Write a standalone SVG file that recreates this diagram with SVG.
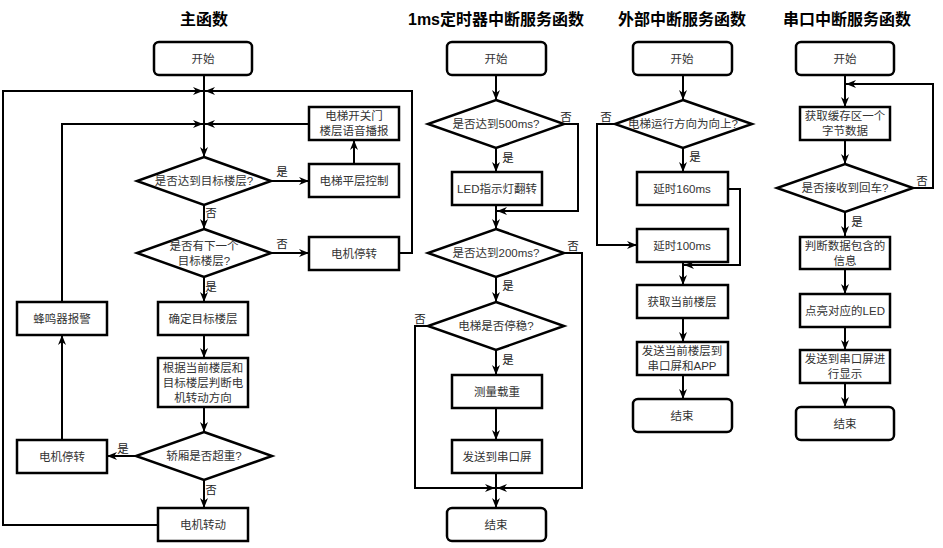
<svg xmlns="http://www.w3.org/2000/svg" width="943" height="548" viewBox="0 0 943 548">
<style>
.box{fill:#fff;stroke:#000;stroke-width:2.5}
.ln{fill:none;stroke:#000;stroke-width:2;marker-end:url(#arr)}
.t{font-family:"Liberation Sans","Noto Sans CJK SC",sans-serif;font-size:11.5px;fill:#333;text-anchor:middle;dominant-baseline:central}
.lb{font-family:"Liberation Sans","Noto Sans CJK SC",sans-serif;font-size:11.5px;fill:#222;text-anchor:middle;dominant-baseline:central}
.ti{font-family:"Liberation Sans","Noto Sans CJK SC",sans-serif;font-size:16px;font-weight:bold;fill:#000;text-anchor:middle}
</style>
<defs>
<marker id="arr" viewBox="0 0 10 8" refX="10" refY="4" markerWidth="10" markerHeight="8" markerUnits="userSpaceOnUse" orient="auto">
<path d="M0,0 L10,4 L0,8 L3,4 z" fill="#000"/>
</marker>
</defs>
<rect width="943" height="548" fill="#fff"/>

<g id="titles">
<text class="ti" x="204" y="25">主函数</text>
<text class="ti" x="496" y="25">1ms定时器中断服务函数</text>
<text class="ti" x="682" y="25">外部中断服务函数</text>
<text class="ti" x="847" y="25">串口中断服务函数</text>
</g>

<g id="connectors">
<!-- main -->
<path class="ln" d="M204,75 V157"/>
<path class="ln" d="M158,525 H3 V91 H203"/>
<path class="ln" d="M399,253 H412 V91 H205"/>
<path class="ln" d="M62,302 V124 H203"/>
<path class="ln" d="M309,124 H205"/>
<path class="ln" d="M271,181 H309"/>
<path class="ln" d="M354,164 V140"/>
<path class="ln" d="M204,205 V229"/>
<path class="ln" d="M271,253 H309"/>
<path class="ln" d="M204,277 V302"/>
<path class="ln" d="M204,335 V358"/>
<path class="ln" d="M204,407 V432"/>
<path class="ln" d="M136,456 H107"/>
<path class="ln" d="M62,440 V335"/>
<path class="ln" d="M204,480 V508"/>
<!-- timer -->
<path class="ln" d="M496,75 V100"/>
<path class="ln" d="M564,124 H578 V211 H497"/>
<path class="ln" d="M496,148 V172"/>
<path class="ln" d="M496,205 V229"/>
<path class="ln" d="M564,253 H582 V488 H497"/>
<path class="ln" d="M496,277 V302"/>
<path class="ln" d="M428,326 H415 V488 H495"/>
<path class="ln" d="M496,350 V375"/>
<path class="ln" d="M496,408 V440"/>
<path class="ln" d="M496,473 V508"/>
<!-- external -->
<path class="ln" d="M683,75 V100"/>
<path class="ln" d="M615,124 H597 V245 H637"/>
<path class="ln" d="M683,148 V172"/>
<path class="ln" d="M728,189 H740 V265 H684"/>
<path class="ln" d="M683,262 V285"/>
<path class="ln" d="M683,318 V342"/>
<path class="ln" d="M683,375 V399"/>
<!-- uart -->
<path class="ln" d="M845,75 V107"/>
<path class="ln" d="M913,188 H933 V84 H846"/>
<path class="ln" d="M845,140 V164"/>
<path class="ln" d="M845,212 V236"/>
<path class="ln" d="M845,269 V294"/>
<path class="ln" d="M845,327 V350"/>
<path class="ln" d="M845,383 V407"/>
</g>

<g id="labels">
<text class="lb" x="282" y="172">是</text>
<text class="lb" x="211" y="213">否</text>
<text class="lb" x="282" y="244">否</text>
<text class="lb" x="211" y="287">是</text>
<text class="lb" x="123" y="449">是</text>
<text class="lb" x="211" y="490">否</text>
<text class="lb" x="566" y="117">否</text>
<text class="lb" x="508" y="158">是</text>
<text class="lb" x="573" y="246">否</text>
<text class="lb" x="508" y="286">是</text>
<text class="lb" x="420" y="319">否</text>
<text class="lb" x="508" y="360">是</text>
<text class="lb" x="606" y="117">否</text>
<text class="lb" x="695" y="157">是</text>
<text class="lb" x="922" y="181">否</text>
<text class="lb" x="857" y="222">是</text>
</g>

<!-- main function nodes -->
<g id="m_start"><rect class="box" x="154" y="42" width="98" height="33" rx="5"/><text class="t" x="203" y="58.5">开始</text></g>
<g id="m_d1"><polygon class="box" points="204,157 271,181 204,205 137,181"/><text class="t" x="204" y="181">是否达到目标楼层?</text></g>
<g id="m_level"><rect class="box" x="309" y="164" width="90" height="33"/><text class="t" x="354" y="180.5">电梯平层控制</text></g>
<g id="m_door"><rect class="box" x="309" y="107" width="90" height="33"/><text class="t" x="354" y="116">电梯开关门</text><text class="t" x="354" y="131">楼层语音播报</text></g>
<g id="m_d2"><polygon class="box" points="204,229 271,253 204,277 137,253"/><text class="t" x="204" y="246">是否有下一个</text><text class="t" x="204" y="261">目标楼层?</text></g>
<g id="m_stop1"><rect class="box" x="309" y="237" width="90" height="33"/><text class="t" x="354" y="253.5">电机停转</text></g>
<g id="m_target"><rect class="box" x="158" y="302" width="90" height="33"/><text class="t" x="203" y="318.5">确定目标楼层</text></g>
<g id="m_dir"><rect class="box" x="158" y="358" width="90" height="49"/><text class="t" x="203" y="368">根据当前楼层和</text><text class="t" x="203" y="383">目标楼层判断电</text><text class="t" x="203" y="398">机转动方向</text></g>
<g id="m_d3"><polygon class="box" points="204,432 272,456 204,480 136,456"/><text class="t" x="204" y="456">轿厢是否超重?</text></g>
<g id="m_stop2"><rect class="box" x="17" y="440" width="90" height="33"/><text class="t" x="62" y="456.5">电机停转</text></g>
<g id="m_buzz"><rect class="box" x="17" y="302" width="90" height="33"/><text class="t" x="62" y="318.5">蜂鸣器报警</text></g>
<g id="m_run"><rect class="box" x="158" y="508" width="90" height="33"/><text class="t" x="203" y="524.5">电机转动</text></g>

<!-- timer nodes -->
<g id="t_start"><rect class="box" x="447" y="42" width="99" height="33" rx="5"/><text class="t" x="496" y="58.5">开始</text></g>
<g id="t_d1"><polygon class="box" points="496,100 564,124 496,148 428,124"/><text class="t" x="496" y="124">是否达到500ms?</text></g>
<g id="t_led"><rect class="box" x="452" y="172" width="90" height="33"/><text class="t" x="497" y="188.5">LED指示灯翻转</text></g>
<g id="t_d2"><polygon class="box" points="496,229 564,253 496,277 428,253"/><text class="t" x="496" y="253">是否达到200ms?</text></g>
<g id="t_d3"><polygon class="box" points="496,302 564,326 496,350 428,326"/><text class="t" x="496" y="326">电梯是否停稳?</text></g>
<g id="t_weigh"><rect class="box" x="452" y="375" width="90" height="33"/><text class="t" x="497" y="391.5">测量载重</text></g>
<g id="t_send"><rect class="box" x="452" y="440" width="90" height="33"/><text class="t" x="497" y="456.5">发送到串口屏</text></g>
<g id="t_end"><rect class="box" x="447" y="508" width="99" height="33" rx="5"/><text class="t" x="496" y="524.5">结束</text></g>

<!-- external interrupt nodes -->
<g id="e_start"><rect class="box" x="633" y="42" width="99" height="33" rx="5"/><text class="t" x="682" y="58.5">开始</text></g>
<g id="e_d1"><polygon class="box" points="683,100 752,124 683,148 615,124"/><text class="t" x="683" y="124">电梯运行方向为向上?</text></g>
<g id="e_160"><rect class="box" x="637" y="172" width="91" height="33"/><text class="t" x="682" y="188.5">延时160ms</text></g>
<g id="e_100"><rect class="box" x="637" y="229" width="91" height="33"/><text class="t" x="682" y="245.5">延时100ms</text></g>
<g id="e_get"><rect class="box" x="637" y="285" width="91" height="33"/><text class="t" x="682" y="301.5">获取当前楼层</text></g>
<g id="e_send"><rect class="box" x="637" y="342" width="91" height="33"/><text class="t" x="682" y="351">发送当前楼层到</text><text class="t" x="682" y="366">串口屏和APP</text></g>
<g id="e_end"><rect class="box" x="633" y="399" width="99" height="33" rx="5"/><text class="t" x="682" y="415.5">结束</text></g>

<!-- uart nodes -->
<g id="u_start"><rect class="box" x="796" y="42" width="98" height="33" rx="5"/><text class="t" x="845" y="58.5">开始</text></g>
<g id="u_get"><rect class="box" x="800" y="107" width="90" height="33"/><text class="t" x="845" y="116">获取缓存区一个</text><text class="t" x="845" y="131">字节数据</text></g>
<g id="u_d1"><polygon class="box" points="845,164 913,188 845,212 777,188"/><text class="t" x="845" y="188">是否接收到回车?</text></g>
<g id="u_parse"><rect class="box" x="800" y="237" width="90" height="32"/><text class="t" x="845" y="245.5">判断数据包含的</text><text class="t" x="845" y="260.5">信息</text></g>
<g id="u_led"><rect class="box" x="800" y="294" width="90" height="33"/><text class="t" x="845" y="310.5">点亮对应的LED</text></g>
<g id="u_send"><rect class="box" x="800" y="350" width="90" height="33"/><text class="t" x="845" y="359">发送到串口屏进</text><text class="t" x="845" y="374">行显示</text></g>
<g id="u_end"><rect class="box" x="796" y="407" width="98" height="33" rx="5"/><text class="t" x="845" y="423.5">结束</text></g>
</svg>
